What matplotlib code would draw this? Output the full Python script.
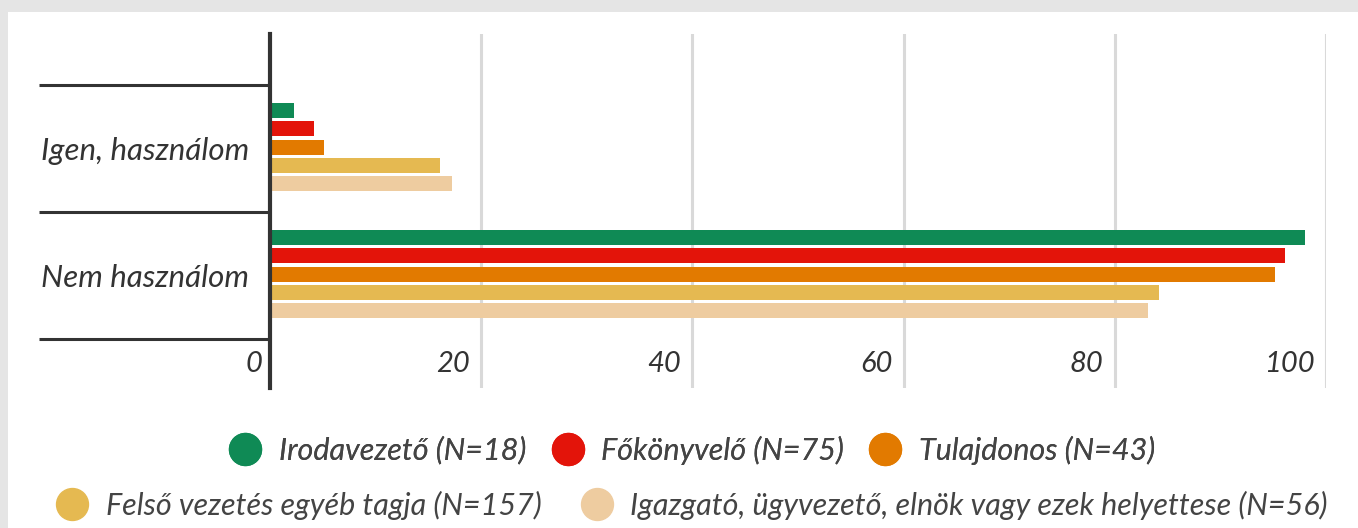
import matplotlib
matplotlib.use("Agg")
import matplotlib.pyplot as plt
from matplotlib.lines import Line2D
from matplotlib.patches import Rectangle
import numpy as np

categories = ["Igen, használom", "Nem használom"]
series = ["Irodavezető (N=18)", "Főkönyvelő (N=75)", "Tulajdonos (N=43)",
          "Felső vezetés egyéb tagja (N=157)",
          "Igazgató, ügyvezető, elnök vagy ezek helyettese (N=56)"]
values = [
    [2.3, 98.0],
    [4.2, 96.1],
    [5.1, 95.2],
    [16.1, 84.2],
    [17.2, 83.1],
]
colors = ["#0f8a55", "#e3140a", "#e27a00", "#e5b951", "#eecca0"]
xticks = [0, 20, 40, 60, 80, 100]

plt.rcParams["font.family"] = ["Lato", "DejaVu Sans"]
plt.rcParams["font.style"] = "italic"
textc = "#333333"

fig = plt.figure(figsize=(13.58, 5.28), dpi=100, facecolor="#e5e5e5")
fig.patches.append(Rectangle((8 / 1358, 0), 1, 1 - 12 / 528, transform=fig.transFigure,
                             facecolor="white", edgecolor="none", zorder=-10))
ax = fig.add_axes([270 / 1358, 1 - 388 / 528, (1326 - 270) / 1358, (388 - 34) / 528])
ax.set_facecolor("none")

y = np.arange(len(categories))
step = 0.1437
for i, (vals, c) in enumerate(zip(values, colors)):
    ax.barh(y + (i - 2) * step - 0.01, vals, height=0.118, color=c, zorder=3)

ax.set_xlim(0, 100)
ax.set_ylim(1.886, -0.9016)

for v in xticks:
    if v > 0:
        ax.axvline(v, color="#d9d9d9", lw=2.2, zorder=1)
    ax.text(v - (0.75 if v == 0 else 1.05), 1.7, str(v), ha="right", va="center",
            fontsize=21, color=textc, zorder=4)
ax.set_xticks([])

# category separators as long y ticks, labels as minor ticks
ax.set_yticks([-0.5, 0.5, 1.5])
ax.set_yticklabels([])
ax.tick_params(axis="y", which="major", length=166, width=2.2, color="#333333", direction="out")
ax.set_yticks(y, minor=True)
ax.set_yticklabels(categories, minor=True, fontsize=22.5, color=textc)
ax.tick_params(axis="y", which="minor", length=0, pad=15)

for s in ["top", "right", "bottom"]:
    ax.spines[s].set_visible(False)
ax.spines["left"].set_color("#333333")
ax.spines["left"].set_linewidth(3)
ax.spines["left"].set_zorder(5)

handles = [Line2D([], [], ls="none", marker="o", markersize=23, markerfacecolor=c,
                  markeredgecolor=c) for c in colors]
kw = dict(loc="center", frameon=False, fontsize=22, handlelength=1.0, handletextpad=0.6,
          labelcolor="#444444")
leg1 = fig.legend(handles[:3], series[:3], bbox_to_anchor=(0.51, 1 - 450 / 528), ncol=3,
                  columnspacing=0.85, **kw)
leg2 = fig.legend(handles[3:], series[3:], bbox_to_anchor=(0.51, 1 - 505 / 528), ncol=2,
                  columnspacing=1.3, **kw)
fig.add_artist(leg1)

fig.savefig("out.png", dpi=100, facecolor=fig.get_facecolor())
